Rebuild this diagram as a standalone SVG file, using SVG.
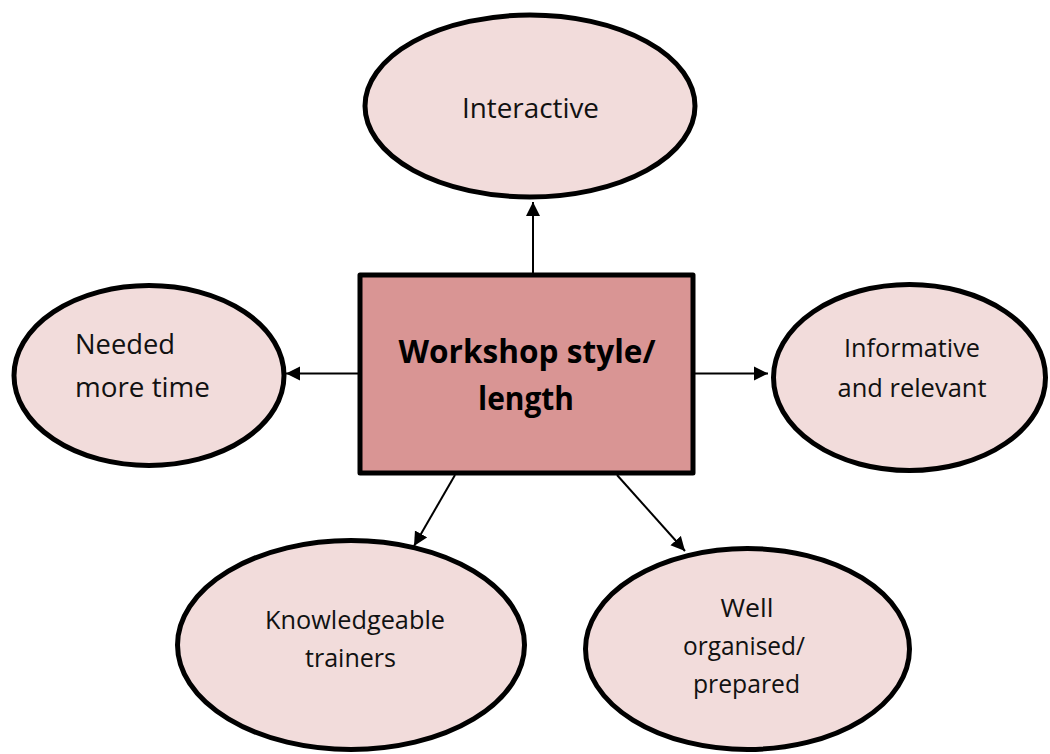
<svg xmlns="http://www.w3.org/2000/svg" width="1050" height="754" viewBox="0 0 1050 754">
<style>
.bg{fill:#ffffff}
.oval{fill:#F2DCDB;stroke:#000;stroke-width:5}
.box{fill:#D99594;stroke:#000;stroke-width:5;stroke-linejoin:round}
.t{font-family:"Open Sans","Noto Sans",sans-serif;font-size:25px;fill:#111;text-anchor:middle}
.tl{font-family:"Open Sans","Noto Sans",sans-serif;font-size:27.5px;fill:#111}
.big{font-size:28px}
.tb{font-family:"Open Sans","Noto Sans",sans-serif;font-size:32px;font-weight:bold;fill:#000;text-anchor:middle}
.conn line{stroke:#000;stroke-width:2;marker-end:url(#arrow)}
</style>
<defs>
<marker id="arrow" markerUnits="userSpaceOnUse" markerWidth="15" markerHeight="15" refX="14" refY="7" orient="auto" viewBox="0 0 15 14">
<path d="M0,0 L14,7 L0,14 z" fill="#000"/>
</marker>
</defs>
<rect class="bg" x="0" y="0" width="1050" height="754"/>
<g id="connectors" class="conn">
<line x1="533" y1="273" x2="533" y2="202"/>
<line x1="358" y1="373.5" x2="286" y2="373.5"/>
<line x1="694" y1="373.5" x2="768" y2="373.5"/>
<line x1="455" y1="475" x2="414" y2="546"/>
<line x1="617" y1="475" x2="685" y2="551"/>
</g>
<g id="node-interactive">
<ellipse class="oval" cx="530" cy="106" rx="165" ry="91"/>
<text class="t big" x="530.5" y="118" textLength="137" lengthAdjust="spacingAndGlyphs">Interactive</text>
</g>
<g id="node-needed">
<ellipse class="oval" cx="149" cy="375.5" rx="135" ry="90"/>
<text class="tl" x="75" y="353.5" textLength="100" lengthAdjust="spacingAndGlyphs">Needed</text>
<text class="tl" x="75" y="397" textLength="135" lengthAdjust="spacingAndGlyphs">more time</text>
</g>
<g id="node-informative">
<ellipse class="oval" cx="909.5" cy="377.5" rx="136" ry="93"/>
<text class="t" x="912" y="357" textLength="136" lengthAdjust="spacingAndGlyphs">Informative</text>
<text class="t" x="912" y="396.5" textLength="149" lengthAdjust="spacingAndGlyphs">and relevant</text>
</g>
<g id="node-knowledgeable">
<ellipse class="oval" cx="351" cy="645" rx="173.5" ry="104.5"/>
<text class="t" x="355" y="629" textLength="180" lengthAdjust="spacingAndGlyphs">Knowledgeable</text>
<text class="t" x="350.5" y="667" textLength="91" lengthAdjust="spacingAndGlyphs">trainers</text>
</g>
<g id="node-organised">
<ellipse class="oval" cx="747.5" cy="649" rx="162" ry="100.5"/>
<text class="t" x="747" y="617" textLength="53" lengthAdjust="spacingAndGlyphs">Well</text>
<text class="t" x="744" y="655" textLength="122" lengthAdjust="spacingAndGlyphs">organised/</text>
<text class="t" x="746.5" y="693" textLength="107" lengthAdjust="spacingAndGlyphs">prepared</text>
</g>
<g id="node-center">
<rect class="box" x="360" y="275" width="333" height="198"/>
<text class="tb" x="527" y="363" textLength="257" lengthAdjust="spacingAndGlyphs">Workshop style/</text>
<text class="tb" x="526" y="410" textLength="96" lengthAdjust="spacingAndGlyphs">length</text>
</g>
</svg>
